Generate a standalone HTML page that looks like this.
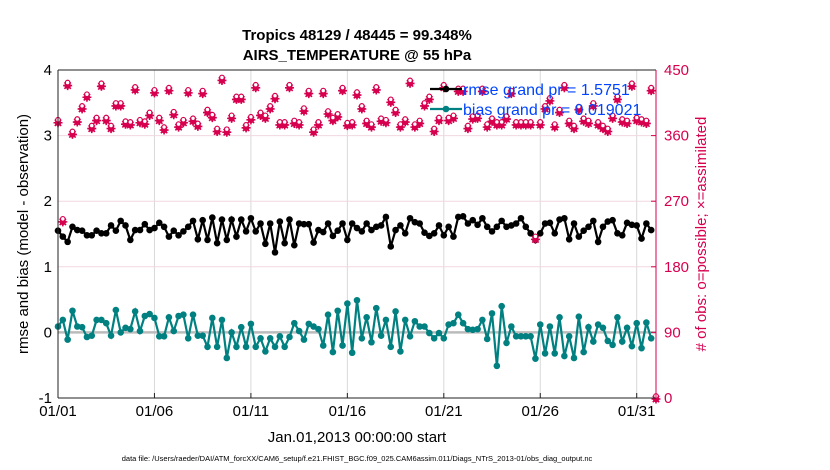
<!DOCTYPE html>
<html><head><meta charset="utf-8"><style>
body{margin:0;background:#fff;}
svg{display:block;font-family:"Liberation Sans",sans-serif;}
</style></head><body>
<svg id="c" width="830" height="470" viewBox="0 0 830 470">
<rect width="830" height="470" fill="#fff"/>
<g id="grid"></g>
<g id="series"></g>
<g id="axes"></g>
<text x="357" y="40" text-anchor="middle" font-size="15" font-weight="bold">Tropics 48129 / 48445 = 99.348%</text>
<text x="357" y="60" text-anchor="middle" font-size="15" font-weight="bold">AIRS_TEMPERATURE @ 55 hPa</text>
<text transform="translate(28,234) rotate(-90)" text-anchor="middle" font-size="15">rmse and bias (model - observation)</text>
<text transform="translate(706,234) rotate(-90)" text-anchor="middle" font-size="15" fill="#d6004f"># of obs: o=possible; ×=assimilated</text>
<text x="357" y="442" text-anchor="middle" font-size="15">Jan.01,2013 00:00:00 start</text>
<text x="357" y="461" text-anchor="middle" font-size="7.5">data file: /Users/raeder/DAI/ATM_forcXX/CAM6_setup/f.e21.FHIST_BGC.f09_025.CAM6assim.011/Diags_NTrS_2013-01/obs_diag_output.nc</text>
<g id="legend"></g>
</svg>
<script>
const rmse=[1.55,1.46,1.38,1.61,1.56,1.55,1.48,1.48,1.55,1.51,1.51,1.63,1.55,1.70,1.63,1.41,1.56,1.56,1.65,1.56,1.59,1.67,1.61,1.46,1.55,1.48,1.54,1.61,1.70,1.42,1.71,1.41,1.75,1.36,1.72,1.41,1.72,1.46,1.72,1.54,1.74,1.54,1.66,1.35,1.66,1.22,1.69,1.36,1.72,1.33,1.66,1.65,1.65,1.37,1.56,1.53,1.66,1.47,1.55,1.66,1.41,1.66,1.59,
1.54,1.66,1.56,1.61,1.63,1.76,1.31,1.56,1.63,1.51,1.74,1.68,1.66,1.52,1.47,1.51,1.63,1.48,1.61,1.46,1.76,1.77,1.66,1.71,1.64,1.74,1.61,1.54,1.61,1.70,1.61,1.63,1.66,1.74,1.61,1.51,1.41,1.51,1.66,1.67,1.51,1.72,1.74,1.42,1.66,1.46,1.55,1.61,1.70,1.38,1.61,1.69,1.71,1.51,1.48,1.67,1.64,1.63,1.43,1.66,1.56];
const bias=[0.09,0.19,-0.11,0.33,0.09,0.08,-0.07,-0.05,0.19,0.19,0.14,-0.05,0.34,0,0.07,0.05,0.32,0.02,0.25,0.28,0.22,-0.06,-0.06,0.23,0.02,0.25,0.27,-0.09,0.27,-0.05,-0.05,-0.22,0.22,-0.22,0.19,-0.39,0,-0.22,0.08,-0.22,0.13,-0.22,-0.09,-0.29,-0.09,-0.22,-0.06,-0.22,-0.07,0.14,0.02,-0.11,0.13,0.09,0.05,-0.2,0.27,-0.3,0.33,-0.2,0.44,-0.31,0.49,
-0.09,0.23,-0.15,0.37,-0.05,0.19,-0.22,0.32,-0.29,0.19,-0.06,0.17,0.09,0.09,-0.01,-0.09,-0.01,-0.09,0.12,0.14,0.27,0.14,0.05,0.04,0.05,0.19,-0.1,0.29,-0.51,0.4,-0.16,0.09,-0.06,-0.06,-0.06,-0.06,-0.4,0.12,-0.32,0.09,-0.32,0.23,-0.36,-0.06,-0.39,0.24,-0.3,0.08,-0.14,0.12,0.07,-0.13,-0.19,0.23,-0.14,0.07,-0.21,0.14,-0.24,0.15,-0.09];
const obsPossible=[379,243,430,363,380,398,414,371,382,429,382,371,402,402,377,376,424,379,377,389,420,382,369,423,390,373,379,420,381,374,419,393,386,367,437,366,385,411,411,372,383,427,389,385,398,412,376,376,427,378,376,395,419,366,376,419,391,382,387,423,375,376,417,
398,378,373,424,381,379,407,393,373,380,433,373,378,402,411,367,382,427,382,385,422,422,371,384,385,422,373,381,376,376,384,419,376,376,376,376,219,376,398,409,373,393,427,378,371,397,381,378,402,376,371,367,385,411,380,378,429,382,380,378,423,0];
const obsAssim=obsPossible.slice();
const xTicks=['01/01','01/06','01/11','01/16','01/21','01/26','01/31'];
const xTickDays=[0,5,10,15,20,25,30];
const yTicks=[-1,0,1,2,3,4];
const y2Ticks=[0,90,180,270,360,450];
const legendLabels=['rmse grand pr = 1.5751','bias grand pr = 0.019021'];

const X0=58,X1=656,Y0=70,Y1=398;
const xs=d=>X0+(d/31)*(X1-X0);
const ys=v=>Y1-(v+1)/5*(Y1-Y0);
const y2s=v=>Y1-v/450*(Y1-Y0);
const NS='http://www.w3.org/2000/svg';
function mk(tag,attrs,parent){const e=document.createElementNS(NS,tag);for(const k in attrs)e.setAttribute(k,attrs[k]);parent.appendChild(e);return e;}
const grid=document.getElementById('grid'),ser=document.getElementById('series'),ax=document.getElementById('axes'),lg=document.getElementById('legend');
const RED='#d6004f',TEAL='#008080';

xTickDays.forEach((d,i)=>{
 const gl=mk('line',{x1:xs(d),x2:xs(d),y1:Y0,y2:Y1,stroke:'#d8d8d8','stroke-width':1},grid);
 
 
 const t=mk('text',{x:xs(d),y:Y1+18,'text-anchor':'middle','font-size':15},ax);
 t.textContent=xTicks[i];
 
 
 mk('line',{x1:xs(d),x2:xs(d),y1:Y1,y2:Y1-5,stroke:'#222'},ax);
});
yTicks.forEach(v=>{
 const gl=mk('line',{x1:X0,x2:X1,y1:ys(v),y2:ys(v),stroke:'#f0d8e0','stroke-width':1},grid);
 
 
 const t=mk('text',{x:X0-6,y:ys(v)+5,'text-anchor':'end','font-size':15},ax);
 t.textContent=v;
 
 
});
y2Ticks.forEach(v=>{
 const t=mk('text',{x:X1+8,y:y2s(v)+5,'font-size':15,fill:RED},ax);
 t.textContent=v;
 
 
 mk('line',{x1:X1,x2:X1-5,y1:y2s(v),y2:y2s(v),stroke:RED},ax);
});
const zl=mk('line',{x1:X0,x2:X1,y1:ys(0),y2:ys(0),stroke:'#bbb','stroke-width':2.5},grid);



function line(arr,col,name){
 const pts=arr.map((v,i)=>xs(i*0.25).toFixed(1)+','+ys(v).toFixed(1)).join(' ');
 const p=mk('polyline',{points:pts,fill:'none',stroke:col,'stroke-width':2.2},ser);
 
 
 arr.forEach((v,i)=>{
  const c=mk('circle',{cx:xs(i*0.25),cy:ys(v),r:3.3,fill:col},ser);
  
  
 });
}
line(rmse,'#000','rmse');
line(bias,TEAL,'bias');

obsAssim.forEach((v,i)=>{
 const x=xs(i*0.25),y=y2s(v);
 const g=mk('g',{},ser);
 
 
 mk('circle',{cx:x,cy:y+1,r:3.2,fill:RED},g);
 mk('path',{d:`M${x-4.5},${y+1}h9M${x},${y-3.5}v9M${x-3.2},${y-2.2}l6.4,6.4M${x+3.2},${y-2.2}l-6.4,6.4`,stroke:RED,'stroke-width':1.6},g);
});
obsPossible.forEach((v,i)=>{
 const c=mk('circle',{cx:xs(i*0.25),cy:y2s(v)-2,r:2.3,fill:'#fff',stroke:RED,'stroke-width':1.2},ser);
 
 
});

// axes frame
mk('line',{x1:X0,x2:X0,y1:Y0,y2:Y1,stroke:'#222'},ax);
mk('line',{x1:X0,x2:X1,y1:Y1,y2:Y1,stroke:'#222'},ax);
mk('line',{x1:X0,x2:X1,y1:Y0,y2:Y0,stroke:'#222'},ax);
mk('line',{x1:X1,x2:X1,y1:Y0,y2:Y1,stroke:RED},ax);

[['#000',89],[TEAL,109]].forEach((s,i)=>{
 const g=mk('g',{},lg);
 
 
 mk('line',{x1:430,x2:462,y1:s[1],y2:s[1],stroke:s[0],'stroke-width':2.2},g);
 mk('circle',{cx:446,cy:s[1],r:3.3,fill:s[0]},g);
 const t=mk('text',{x:463,y:s[1]+6,'font-size':16,fill:'#0044ff'},g);
 t.textContent=legendLabels[i];
});
</script>
</body></html>
